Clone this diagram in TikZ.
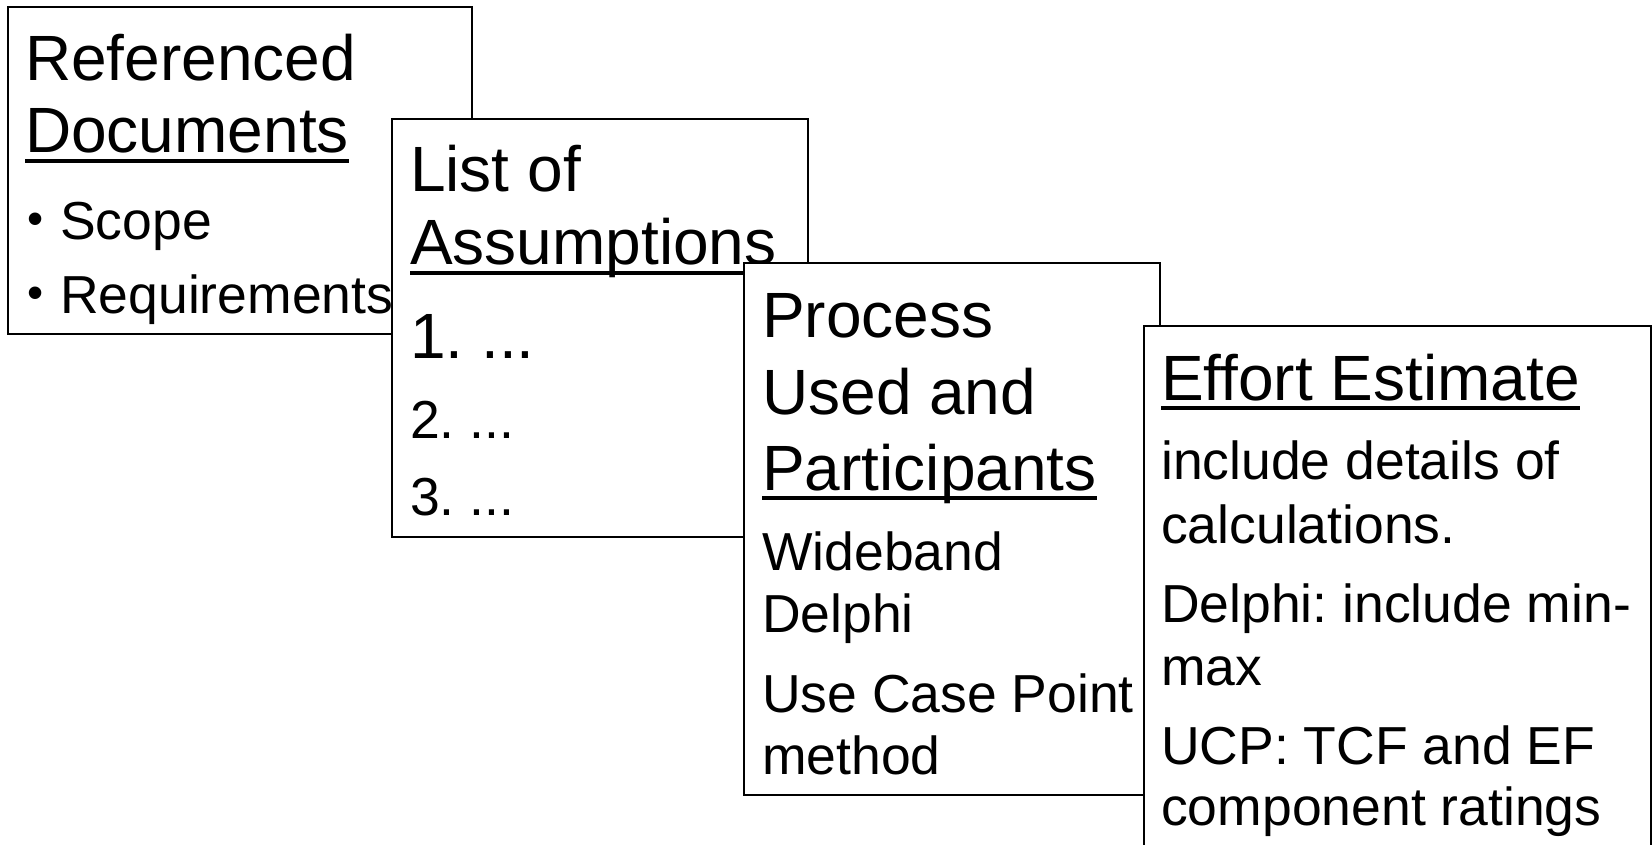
\documentclass[tikz,border=0pt]{standalone}
\usepackage{fontspec}
\setmainfont{Liberation Sans}
\begin{document}
\frenchspacing
\begin{tikzpicture}[x=1pt,y=-1pt,
  box/.style={draw=black,fill=white,line width=2pt,rectangle,inner sep=0pt,anchor=north west},
  ttl/.style={inner sep=0pt,anchor=base west,font=\fontsize{64}{76}\selectfont},
  bdy/.style={inner sep=0pt,anchor=base west,font=\fontsize{53.5}{62}\selectfont},
  bul/.style={inner sep=0pt,anchor=base west,font=\fontsize{46}{50}\selectfont},
  uline/.style={line width=3.5pt}]
\useasboundingbox[fill=white] (0,0) rectangle (1652,845);
\clip (0,0) rectangle (1652,845);
% Box 1
\node[box,minimum width=464pt,minimum height=327pt] (b1) at (7,6) {};
\node[ttl] (t1a) at (25,81) {Referenced};
\node[ttl] (t1b) at (25,153) {Documents};
\draw[uline] ([yshift=-8pt]t1b.base west) -- ([yshift=-8pt]t1b.base east);
\node[bul] (u1) at (27,235) {•};
\node[bdy] (l1a) at (60,240) {Scope};
\node[bul] (u2) at (27,308) {•};
\node[bdy] (l1b) at (60,313) {Requirements};
% Box 2
\node[box,minimum width=416pt,minimum height=418pt] (b2) at (391,118) {};
\node[ttl] (t2a) at (410,192) {List of};
\node[ttl] (t2b) at (410,265) {Assumptions};
\draw[uline] ([yshift=-8pt]t2b.base west) -- ([yshift=-8pt]t2b.base east);
\node[ttl] (l2a) at (410,358) {1. ...};
\node[bdy] (l2b) at (410,438) {2. ...};
\node[bdy] (l2c) at (410,515) {3. ...};
% Box 3
\node[box,minimum width=416pt,minimum height=532pt] (b3) at (743,262) {};
\node[ttl] (t3a) at (762,337) {Process};
\node[ttl] (t3b) at (762,414) {Used and};
\node[ttl] (t3c) at (762,490) {Participants};
\draw[uline] ([yshift=-8pt]t3c.base west) -- ([yshift=-8pt]t3c.base east);
\node[bdy] (l3a) at (762,570) {Wideband};
\node[bdy] (l3b) at (762,632) {Delphi};
\node[bdy] (l3c) at (762,712) {Use Case Point};
\node[bdy] (l3d) at (762,774) {method};
% Box 4
\node[box,minimum width=507pt,minimum height=545pt] (b4) at (1143,325) {};
\node[ttl] (t4a) at (1161,400) {Effort Estimate};
\draw[uline] ([yshift=-8pt]t4a.base west) -- ([yshift=-8pt]t4a.base east);
\node[bdy] (l4a) at (1161,479) {include details of};
\node[bdy] (l4b) at (1161,543) {calculations.};
\node[bdy] (l4c) at (1161,622) {Delphi: include min-};
\node[bdy] (l4d) at (1161,685) {max};
\node[bdy] (l4e) at (1161,764) {UCP: TCF and EF};
\node[bdy] (l4f) at (1161,825) {component ratings};
\end{tikzpicture}
\end{document}
